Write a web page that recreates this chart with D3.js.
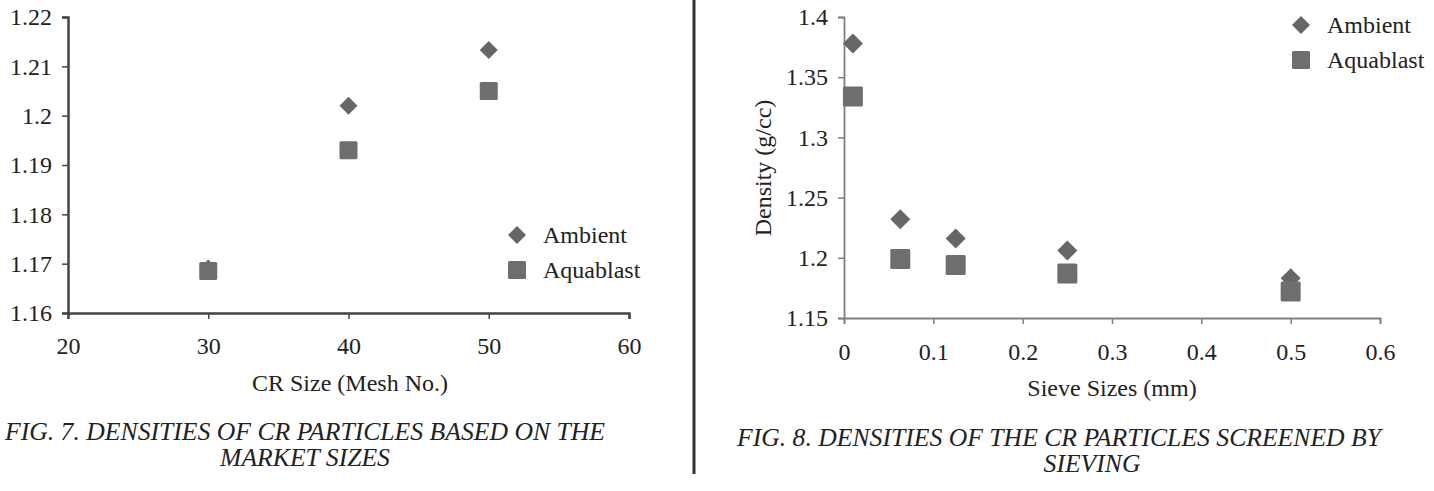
<!DOCTYPE html>
<html>
<head>
<meta charset="utf-8">
<script src="https://cdn.jsdelivr.net/npm/d3@7"></script>
<style>
  body { margin: 0; background: #fff; }
  svg { display: block; }
  text { font-family: "Liberation Serif", "Times New Roman", serif; fill: #222; }
</style>
</head>
<body>
<svg id="fig" width="1434" height="491"></svg>
<script>
// Fig. 7 - market sizes
var meshSizes = [30, 40, 50];
var meshAmbient = [1.169, 1.202, 1.2133];
var meshAquablast = [1.1685, 1.193, 1.205];
var meshXTicks = [20, 30, 40, 50, 60];
var meshYTicks = [1.16, 1.17, 1.18, 1.19, 1.2, 1.21, 1.22];

// Fig. 8 - sieving
var sieveSizes = [0.01, 0.063, 0.125, 0.25, 0.5];
var sieveAmbient = [1.378, 1.232, 1.216, 1.206, 1.183];
var sieveAquablast = [1.334, 1.199, 1.194, 1.187, 1.172];
var sieveXTicks = [0, 0.1, 0.2, 0.3, 0.4, 0.5, 0.6];
var sieveYTicks = [1.15, 1.2, 1.25, 1.3, 1.35, 1.4];

var seriesNames = ["Ambient", "Aquablast"];

var svg = d3.select("#fig");
var markColor = "#666";

function drawChart(opt) {
  var x = d3.scaleLinear().domain(opt.xDomain).range(opt.xRange);
  var y = d3.scaleLinear().domain(opt.yDomain).range(opt.yRange);
  var g = svg.append("g");

  var xAxis = g.append("g")
      .attr("transform", "translate(0," + opt.yRange[0] + ")")
      .call(d3.axisBottom(x).tickValues(opt.xTicks).tickSize(6).tickPadding(opt.xPad)
        .tickFormat(d3.format("")));
  var yAxis = g.append("g")
      .attr("transform", "translate(" + opt.xRange[0] + ",0)")
      .call(d3.axisLeft(y).tickValues(opt.yTicks).tickSize(6).tickPadding(10)
        .tickFormat(d3.format("")));

  [xAxis, yAxis].forEach(function(a) {
    a.select(".domain").attr("stroke", opt.axisColor).attr("stroke-width", opt.axisWidth);
    a.selectAll(".tick line").attr("stroke", opt.axisColor).attr("stroke-width", 1.5);
    a.selectAll(".tick text")
      .style("font-family", '"Liberation Serif", serif')
      .style("font-size", "24px")
      .attr("fill", "#222");
  });

  // Ambient diamonds
  g.selectAll(".amb")
    .data(opt.xs.map(function(d, i) { return [d, opt.amb[i]]; }))
    .enter().append("path")
      .attr("d", d3.symbol(d3.symbolSquare, opt.dSize * opt.dSize / 2)())
      .attr("transform", function(d) { return "translate(" + x(d[0]) + "," + y(d[1]) + ") rotate(45)"; })
      .attr("fill", markColor);

  // Aquablast squares
  g.selectAll(".aqu")
    .data(opt.xs.map(function(d, i) { return [d, opt.aqu[i]]; }))
    .enter().append("rect")
      .attr("x", function(d) { return x(d[0]) - opt.sSize / 2; })
      .attr("y", function(d) { return y(d[1]) - opt.sSize / 2; })
      .attr("width", opt.sSize)
      .attr("height", opt.sSize)
      .attr("rx", 1.5)
      .attr("fill", "#6e6e6e");

  // legend
  var lg = g.append("g").attr("transform", "translate(" + opt.legend[0] + "," + opt.legend[1] + ")");
  lg.append("path")
    .attr("d", d3.symbol(d3.symbolSquare, 18 * 18 / 2)())
    .attr("transform", "rotate(45)")
    .attr("fill", markColor);
  lg.append("rect").attr("x", -9).attr("y", 35 - 9).attr("width", 18).attr("height", 18)
    .attr("rx", 1.5).attr("fill", "#6e6e6e");
  lg.selectAll("text.lbl").data(seriesNames).enter().append("text")
    .attr("x", 26).attr("y", function(d, i) { return i * 35; })
    .attr("dy", "0.35em")
    .style("font-size", "24px")
    .text(function(d) { return d; });

  // axis titles
  g.append("text")
    .attr("x", opt.xTitle[0]).attr("y", opt.xTitle[1])
    .attr("text-anchor", "middle").attr("dy", "0.35em")
    .style("font-size", "24px")
    .text(opt.xLabel);
  if (opt.yLabel) {
    g.append("text")
      .attr("transform", "translate(" + opt.yTitle[0] + "," + opt.yTitle[1] + ") rotate(-90)")
      .attr("text-anchor", "middle").attr("dy", "0.35em")
      .style("font-size", "24px")
      .text(opt.yLabel);
  }

  // caption: tall, horizontally squeezed italic like the scanned figure
  var c1 = g.append("text")
    .attr("x", opt.cap1[0]).attr("y", opt.cap1[1])
    .attr("dy", "0.35em")
    .style("font-size", "25px").style("font-style", "italic")
    .text(opt.caption[0]);
  var natural = c1.node().getComputedTextLength();
  var k = opt.cap1[2] / natural;
  c1.attr("textLength", opt.cap1[2]).attr("lengthAdjust", "spacingAndGlyphs");
  g.append("g")
    .attr("transform", "translate(" + opt.cap2[0] + "," + opt.cap2[1] + ") scale(" + k + ",1)")
    .append("text")
    .attr("text-anchor", "middle").attr("dy", "0.35em")
    .style("font-size", "25px").style("font-style", "italic")
    .text(opt.caption[1]);
}

drawChart({
  xDomain: [20, 60], xRange: [68, 629],
  yDomain: [1.16, 1.22], yRange: [313, 17],
  xTicks: meshXTicks, yTicks: meshYTicks,
  xs: meshSizes, amb: meshAmbient, aqu: meshAquablast,
  axisColor: "#444", axisWidth: 2.5, xPad: 18,
  dSize: 18, sSize: 18,
  legend: [517, 235],
  xLabel: "CR Size (Mesh No.)", xTitle: [350, 383],
  caption: ["FIG. 7. DENSITIES OF CR PARTICLES BASED ON THE", "MARKET SIZES"],
  cap1: [5, 431, 600], cap2: [305, 457]
});

drawChart({
  xDomain: [0, 0.6], xRange: [844, 1380],
  yDomain: [1.15, 1.4], yRange: [318, 17],
  xTicks: sieveXTicks, yTicks: sieveYTicks,
  xs: sieveSizes, amb: sieveAmbient, aqu: sieveAquablast,
  axisColor: "#808080", axisWidth: 1.8, xPad: 19,
  dSize: 20, sSize: 20,
  legend: [1301, 25],
  xLabel: "Sieve Sizes (mm)", xTitle: [1112, 388],
  yLabel: "Density (g/cc)", yTitle: [763, 168],
  caption: ["FIG. 8. DENSITIES OF THE CR PARTICLES SCREENED BY", "SIEVING"],
  cap1: [737, 437, 644], cap2: [1092, 463]
});

// divider between the two figures
svg.append("line")
  .attr("x1", 694).attr("x2", 694).attr("y1", 0).attr("y2", 474)
  .attr("stroke", "#333").attr("stroke-width", 3);
</script>
</body>
</html>
